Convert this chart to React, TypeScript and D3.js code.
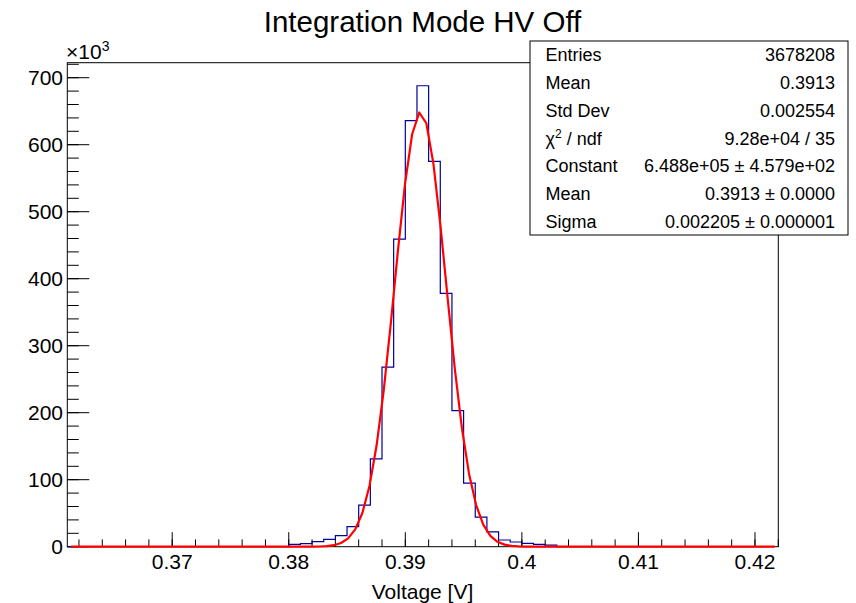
import React from "react";
import * as d3 from "d3";

// ---- data ----
const title = "Integration Mode HV Off";
const xTitle = "Voltage [V]";
const binStart = 0.361;
const binWidth = 0.001;
// counts (in units of 10^3), one per 0.001 V bin starting at 0.361
const counts = [
  0, 0, 0, 0, 0, 0, 0, 0, 0, 0, // 0.361 - 0.370
  0, 0, 0, 0, 0, 0, 0, 0, 0, // 0.371 - 0.379
  3.5, 4.5, 7.5, 11, 16.5, 30, 62, 131, 268, 459, // 0.380 - 0.389
  636, 688, 575, 378, 203, 95, 44, 22, 10, 7, // 0.390 - 0.399
  5, 3.5, 2.5, // 0.400 - 0.402
  0, 0, 0, 0, 0, 0, 0, 0, 0, 0, 0, 0, 0, 0, 0, 0, 0, 0, // 0.403 - 0.420
];
const xMin = 0.361;
const xMax = 0.422;
const yMax = 722.4;
const xMajorTicks = [0.37, 0.38, 0.39, 0.4, 0.41, 0.42];
const xTickLabels = ["0.37", "0.38", "0.39", "0.4", "0.41", "0.42"];
const yMajorTicks = [0, 100, 200, 300, 400, 500, 600, 700];
const yTickLabels = ["0", "100", "200", "300", "400", "500", "600", "700"];
// Gaussian fit parameters (as shown in the stats box)
const fitConstant = 648.8; // x10^3
const fitMean = 0.3913;
const fitSigma = 0.002205;
const fitPoints = 100;

const statLabels = ["Entries", "Mean", "Std Dev", "CHI", "Constant", "Mean", "Sigma"];
const statValues = [
  "3678208",
  "0.3913",
  "0.002554",
  "9.28e+04 / 35",
  "6.488e+05 \u00b1 4.579e+02",
  "0.3913 \u00b1 0.0000",
  "0.002205 \u00b1 0.000001",
];

// ---- layout ----
const W = 856;
const H = 603;
const L = 67.3;
const R = 778.3;
const T = 62.7;
const B = 546.7;
const FONT = "'Liberation Sans', Arial, Helvetica, sans-serif";

export default function App() {
  const x = d3.scaleLinear().domain([xMin, xMax]).range([L, R]);
  const y = d3.scaleLinear().domain([0, yMax]).range([B, T]);

  const histPts: [number, number][] = [];
  counts.forEach((c, i) => {
    const lo = binStart + i * binWidth;
    const hi = lo + binWidth;
    histPts.push([x(lo), y(c)]);
    histPts.push([x(hi), y(c)]);
  });
  const histPath = d3.line()(histPts) || "";

  const dx = (xMax - xMin) / fitPoints;
  const fitPts: [number, number][] = d3.range(fitPoints).map((i) => {
    const xv = xMin + (i + 0.5) * dx;
    const v = fitConstant * Math.exp(-0.5 * Math.pow((xv - fitMean) / fitSigma, 2));
    return [x(xv), y(v)];
  });
  const fitPath = d3.line()(fitPts) || "";

  const xMinor = d3.range(0, 31).map((i) => 0.362 + i * 0.002).filter((v) => v <= xMax + 1e-9);
  const yMinor = d3.range(0, 37).map((i) => i * 20).filter((v) => v <= yMax);

  const boxL = 530;
  const boxR = 848;
  const boxT = 41;
  const boxB = 235;
  const rowH = (boxB - boxT) / statLabels.length;

  return (
    <svg
      width={W}
      height={H}
      style={{ position: "absolute", left: 0, top: 0, display: "block", background: "#fff" }}
      fontFamily={FONT}
    >
      <rect x={0} y={0} width={W} height={H} fill="#fff" />
      {/* title */}
      <text x={422.5} y={31.5} fontSize={29.5} textAnchor="middle" fill="#000">
        {title}
      </text>

      {/* frame */}
      <rect x={L} y={T} width={R - L} height={B - T} fill="none" stroke="#000" strokeWidth={1} />

      {/* x ticks */}
      {xMinor.map((v, i) => (
        <line key={"xm" + i} x1={x(v)} x2={x(v)} y1={B} y2={B - 7.3} stroke="#000" strokeWidth={1} />
      ))}
      {xMajorTicks.map((v, i) => (
        <line key={"xM" + i} x1={x(v)} x2={x(v)} y1={B} y2={B - 14.5} stroke="#000" strokeWidth={1} />
      ))}
      {xMajorTicks.map((v, i) => (
        <text key={"xl" + i} x={x(v)} y={569} fontSize={21} textAnchor="middle" fill="#000">
          {xTickLabels[i]}
        </text>
      ))}
      <text x={422.5} y={599} fontSize={21} textAnchor="middle" fill="#000">
        {xTitle}
      </text>

      {/* y ticks */}
      {yMajorTicks.map((v, i) => (
        <line key={"yM" + i} x1={L} x2={L + 22} y1={y(v)} y2={y(v)} stroke="#000" strokeWidth={1} />
      ))}
      {yMinor.map((v, i) => (
        <line key={"ym" + i} x1={L} x2={L + 11.5} y1={y(v)} y2={y(v)} stroke="#000" strokeWidth={1} />
      ))}
      {yMajorTicks.map((v, i) => (
        <text key={"yl" + i} x={63} y={y(v) + 7.5} fontSize={21} textAnchor="end" fill="#000">
          {yTickLabels[i]}
        </text>
      ))}
      <text x={66} y={58.5} fontSize={21} fill="#000">
        {"\u00d710"}
        <tspan dy={-8} fontSize={14}>3</tspan>
      </text>

      {/* histogram */}
      <path d={histPath} fill="none" stroke="#000099" strokeWidth={1.2} />
      {/* fit */}
      <path d={fitPath} fill="none" stroke="#ff0000" strokeWidth={2.2} strokeLinejoin="round" />

      {/* stats box */}
      <rect x={boxL} y={boxT} width={boxR - boxL} height={boxB - boxT} fill="#fff" stroke="#000" strokeWidth={1} />
      {statLabels.map((lab, i) => {
        const cy = boxT + rowH * (i + 0.5) + 6.5;
        return (
          <g key={"s" + i}>
            {lab === "CHI" ? (
              <text x={545.5} y={cy} fontSize={18} fill="#000">
                {"\u03c7"}
                <tspan dy={-7} fontSize={12}>2</tspan>
                <tspan dy={7}>{" / ndf"}</tspan>
              </text>
            ) : (
              <text x={545.5} y={cy} fontSize={18} fill="#000">
                {lab}
              </text>
            )}
            <text x={835} y={cy} fontSize={18} textAnchor="end" fill="#000">
              {statValues[i]}
            </text>
          </g>
        );
      })}
    </svg>
  );
}
